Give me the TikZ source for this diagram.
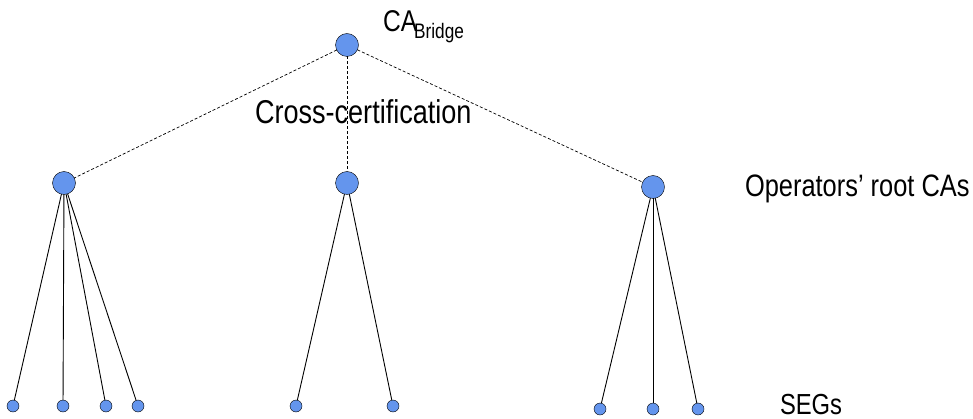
\documentclass[tikz,border=0pt]{standalone}
\usepackage{fontspec}
\setmainfont{Liberation Sans}
\newfontfamily\narrowfont[FakeStretch=0.82]{Liberation Sans}
\definecolor{cablue}{RGB}{100,149,237}

\begin{document}
\begin{tikzpicture}[x=1pt, y=-1pt, every node/.style={outer sep=0pt},
  ca/.style={circle, draw=black, fill=cablue, minimum size=23pt, inner sep=0pt},
  seg/.style={circle, draw=black, fill=cablue, minimum size=12pt, inner sep=0pt},
  lbl/.style={anchor=base west, inner sep=0pt, font=\narrowfont\fontsize{31}{36}\selectfont},
  cross/.style={dashed, dash pattern=on 3pt off 2pt, line width=0.7pt},
  tie/.style={line width=0.9pt}]
\useasboundingbox (0,0) rectangle (973,419);

\node[ca] (bridge) at (347,45) {};
\node[ca] (rootA) at (64,183) {};
\node[ca] (rootB) at (347,183) {};
\node[ca] (rootC) at (653,187) {};

\node[seg] (segA1) at (13,406) {};
\node[seg] (segA2) at (63,406) {};
\node[seg] (segA3) at (106,406) {};
\node[seg] (segA4) at (138,406) {};
\node[seg] (segB1) at (296,406) {};
\node[seg] (segB2) at (393,406) {};
\node[seg] (segC1) at (600,409) {};
\node[seg] (segC2) at (653,409) {};
\node[seg] (segC3) at (698,409) {};

\draw[cross] (bridge) -- (rootA);
\draw[cross] (bridge) -- (rootB);
\draw[cross] (bridge) -- (rootC);

\draw[tie] (rootA) -- (segA1);
\draw[tie] (rootA) -- (segA2);
\draw[tie] (rootA) -- (segA3);
\draw[tie] (rootA) -- (segA4);
\draw[tie] (rootB) -- (segB1);
\draw[tie] (rootB) -- (segB2);
\draw[tie] (rootC) -- (segC1);
\draw[tie] (rootC) -- (segC2);
\draw[tie] (rootC) -- (segC3);

\node[anchor=base west, inner sep=0pt, font=\narrowfont\fontsize{30}{32}\selectfont] (bridgelbl) at (383,32)
  {CA\hspace{-3pt}\raisebox{-7pt}{\fontsize{21}{21}\selectfont Bridge}};
\node[lbl, font=\narrowfont\fontsize{33}{36}\selectfont] (crosslbl) at (255,124) {Cross-certification};
\node[lbl] (rootlbl) at (745,197) {Operators’ root CAs};
\node[lbl, font=\narrowfont\fontsize{29}{32}\selectfont] (seglbl) at (780,414) {SEGs};
\end{tikzpicture}
\end{document}
